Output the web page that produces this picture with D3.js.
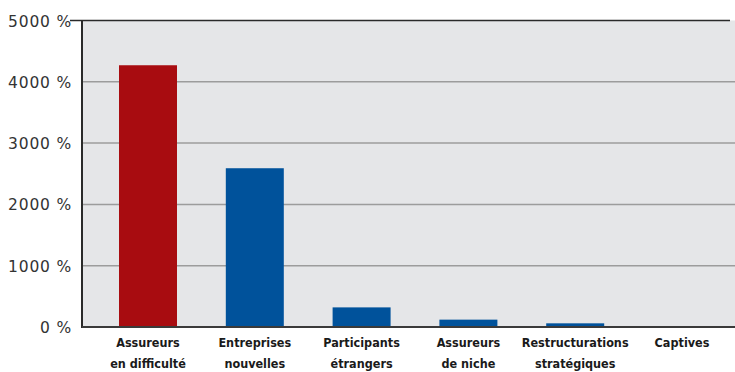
<!DOCTYPE html>
<html>
<head>
<meta charset="utf-8">
<script src="https://cdn.jsdelivr.net/npm/d3@7/dist/d3.min.js"></script>
<style>
  html, body { margin: 0; padding: 0; background: #ffffff; }
  svg { display: block; }
</style>
</head>
<body>
<svg id="chart" width="735" height="372"></svg>
<script>
// Catégories (deux lignes par étiquette)
const categories = [
  ["Assureurs", "en difficulté"],
  ["Entreprises", "nouvelles"],
  ["Participants", "étrangers"],
  ["Assureurs", "de niche"],
  ["Restructurations", "stratégiques"],
  ["Captives", ""]
];
// Croissance des primes, en %
const values = [4270, 2590, 320, 120, 60, 0];
const barColors = ["#a80c10", "#00529b", "#00529b", "#00529b", "#00529b", "#00529b"];
const yTicks = [0, 1000, 2000, 3000, 4000, 5000];

const svg = d3.select("#chart");
const plot = { left: 82, right: 735, top: 20.5, bottom: 327 };

const y = d3.scaleLinear().domain([0, 5000]).range([plot.bottom, plot.top]);
const x = d3.scaleBand()
  .domain(d3.range(categories.length))
  .range([94.6, 735.4])
  .paddingInner(0.457)
  .paddingOuter(0.2285);

// Fond de la zone de tracé
svg.append("rect")
  .attr("x", plot.left).attr("y", plot.top)
  .attr("width", plot.right - plot.left).attr("height", plot.bottom - plot.top)
  .attr("fill", "#e5e6e8");

// Lignes de grille
svg.append("g")
  .selectAll("line")
  .data(yTicks.filter(d => d > 0 && d < 5000))
  .join("line")
  .attr("x1", plot.left).attr("x2", plot.right)
  .attr("y1", d => y(d)).attr("y2", d => y(d))
  .attr("stroke", "#9c9c9c").attr("stroke-width", 1.5);

// Barres
svg.append("g")
  .selectAll("rect")
  .data(values)
  .join("rect")
  .attr("x", (d, i) => x(i))
  .attr("width", x.bandwidth())
  .attr("y", d => y(d))
  .attr("height", d => y(0) - y(d))
  .attr("fill", (d, i) => barColors[i]);

// Axe vertical avec étiquettes
const yAxis = d3.axisLeft(y)
  .tickValues(yTicks)
  .tickSize(0)
  .tickPadding(10)
  .tickFormat(d => d + " %");
const gy = svg.append("g")
  .attr("transform", `translate(${plot.left},0)`)
  .call(yAxis);
gy.select(".domain").remove();
gy.selectAll("text")
  .attr("font-family", "'DejaVu Sans', sans-serif")
  .attr("font-size", 15.5)
  .attr("letter-spacing", 0.8)
  .attr("fill", "#333")
  .attr("dy", "0.36em");

// Cadre : haut, gauche, bas
svg.append("line")
  .attr("x1", 70).attr("x2", 730)
  .attr("y1", plot.top).attr("y2", plot.top)
  .attr("stroke", "#2a2a2a").attr("stroke-width", 1.5);
svg.append("line")
  .attr("x1", plot.left).attr("x2", plot.left)
  .attr("y1", plot.top).attr("y2", plot.bottom + 1)
  .attr("stroke", "#2a2a2a").attr("stroke-width", 2);
svg.append("line")
  .attr("x1", plot.left).attr("x2", plot.right)
  .attr("y1", plot.bottom).attr("y2", plot.bottom)
  .attr("stroke", "#3a3a3a").attr("stroke-width", 2);

// Étiquettes des catégories
const labels = svg.append("g")
  .selectAll("text")
  .data(categories)
  .join("text")
  .attr("text-anchor", "middle")
  .attr("font-family", "'DejaVu Sans Condensed', 'DejaVu Sans', sans-serif")
  .attr("font-stretch", "condensed")
  .attr("font-weight", "bold")
  .attr("font-size", 12.5)
  .attr("fill", "#1a1a1a");
labels.append("tspan")
  .attr("x", (d, i) => x(i) + x.bandwidth() / 2)
  .attr("y", 347)
  .text(d => d[0]);
labels.append("tspan")
  .attr("x", (d, i) => x(i) + x.bandwidth() / 2)
  .attr("y", 368)
  .text(d => d[1]);
</script>
</body>
</html>
